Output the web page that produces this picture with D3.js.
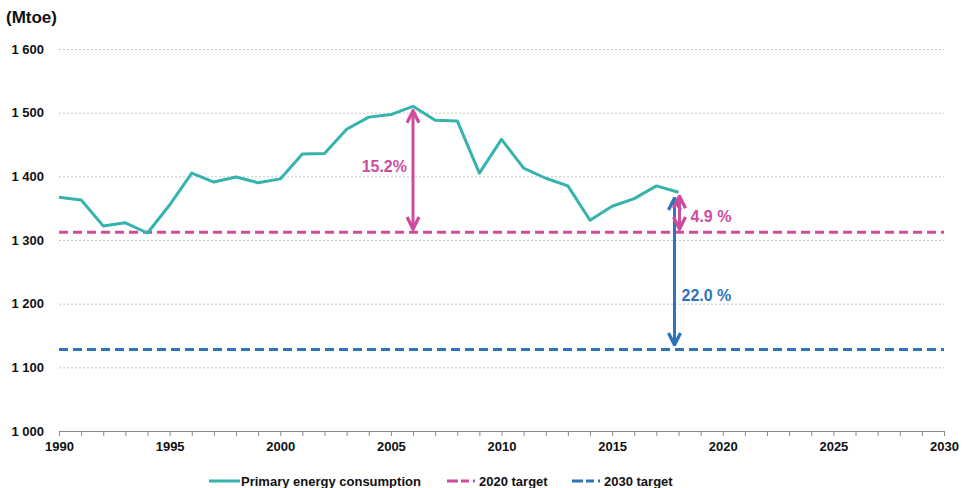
<!DOCTYPE html>
<html>
<head>
<meta charset="utf-8">
<script src="https://cdn.jsdelivr.net/npm/d3@7"></script>
<style>
  body { margin: 0; background: #fff; }
  svg text { font-family: "Liberation Sans", Arial, sans-serif; font-weight: bold; }
</style>
</head>
<body>
<div id="chart"></div>
<script>
// data
var years = [1990, 1991, 1992, 1993, 1994, 1995, 1996, 1997, 1998, 1999,
             2000, 2001, 2002, 2003, 2004, 2005, 2006, 2007, 2008, 2009,
             2010, 2011, 2012, 2013, 2014, 2015, 2016, 2017, 2018];
var consumption = [1367, 1363, 1322, 1327, 1311, 1355, 1405, 1391, 1399, 1390,
                   1396, 1435, 1436, 1474, 1493, 1497, 1510, 1488, 1487, 1405,
                   1458, 1413, 1397, 1385, 1331, 1353, 1365, 1385, 1375];
var target2020 = 1312;
var target2030 = 1128;
var yTicks = [1000, 1100, 1200, 1300, 1400, 1500, 1600];
var xTicks = [1990, 1995, 2000, 2005, 2010, 2015, 2020, 2025, 2030];

// gap arrows: year, from, to, label
var gapYears = [2006, 2018, 2018];
var gapFrom = [1506, 1372, 1369];
var gapTo = [1314, 1314, 1132];
var gapLabels = ["15.2%", "4.9 %", "22.0 %"];

var teal = "#35b3ad", magenta = "#cf4c9d", blue = "#2e74b8";

var margin = {top: 49, right: 19, bottom: 57, left: 59},
    width = 963 - margin.left - margin.right,
    height = 488 - margin.top - margin.bottom;

var svg = d3.select("#chart")
  .append("svg")
    .attr("width", 963)
    .attr("height", 488);

var g = svg.append("g")
    .attr("transform", "translate(" + margin.left + "," + margin.top + ")");

var x = d3.scaleLinear().domain([1990, 2030]).range([0, width]);
var y = d3.scaleLinear().domain([1000, 1600]).range([height, 0]);

var fmt = d3.formatLocale({decimal: ".", thousands: " ", grouping: [3], currency: ["", ""]}).format(",d");

// grid lines
g.append("g")
    .call(d3.axisLeft(y).tickValues(yTicks.slice(1)).tickSize(-width).tickFormat(""))
    .call(a => a.select(".domain").remove())
    .selectAll("line")
      .attr("stroke", "#c6c6c6")
      .attr("stroke-dasharray", "2,2");

// y axis labels
g.append("g")
    .attr("transform", "translate(-12,0)")
    .call(d3.axisLeft(y).tickValues(yTicks).tickSize(0).tickFormat(fmt))
    .call(a => a.select(".domain").remove())
    .selectAll("text")
      .attr("font-size", 13)
      .attr("fill", "#111");

// x axis
var xAxis = g.append("g")
    .attr("transform", "translate(0," + height + ")")
    .call(d3.axisBottom(x).ticks(40).tickSize(5).tickFormat(d => xTicks.indexOf(d) >= 0 ? d : "").tickSizeOuter(0));
xAxis.select(".domain").attr("stroke", "#888").attr("stroke-width", 1);
xAxis.selectAll("line").attr("stroke", "#888");
xAxis.selectAll("text")
    .attr("font-size", 13)
    .attr("fill", "#111")
    .attr("dy", "0.95em");

// unit
svg.append("text")
    .attr("x", 6)
    .attr("y", 23)
    .attr("font-size", 17)
    .attr("fill", "#111")
    .text("(Mtoe)");

// target lines
g.append("line")
    .attr("x1", x(1990)).attr("x2", x(2030))
    .attr("y1", y(target2020)).attr("y2", y(target2020))
    .attr("stroke", magenta).attr("stroke-width", 3).attr("stroke-dasharray", "9,5");
g.append("line")
    .attr("x1", x(1990)).attr("x2", x(2030))
    .attr("y1", y(target2030)).attr("y2", y(target2030))
    .attr("stroke", blue).attr("stroke-width", 3).attr("stroke-dasharray", "9,5");

// consumption line
g.append("path")
    .datum(years)
    .attr("fill", "none")
    .attr("stroke", teal)
    .attr("stroke-width", 3)
    .attr("stroke-linejoin", "round")
    .attr("d", d3.line()
        .x(function(d) { return x(d); })
        .y(function(d, i) { return y(consumption[i]); })
    );

// arrow heads
var defs = svg.append("defs");
[["magenta", magenta], ["blue", blue]].forEach(function(c) {
  defs.append("marker")
      .attr("id", "head-" + c[0])
      .attr("viewBox", "0 0 10 10")
      .attr("refX", 9).attr("refY", 5)
      .attr("markerWidth", 5).attr("markerHeight", 5)
      .attr("markerUnits", "strokeWidth")
      .attr("orient", "auto-start-reverse")
    .append("path")
      .attr("d", "M1,1 L9,5 L1,9")
      .attr("fill", "none")
      .attr("stroke", c[1])
      .attr("stroke-width", 2.2);
});

var gapColors = [magenta, magenta, blue];
var gapMarkers = ["magenta", "magenta", "blue"];
var gapShift = [0, 1, -4];

// blue first so magenta sits on top
[2, 0, 1].forEach(function(i) {
  var ax = x(gapYears[i]) + gapShift[i];
  g.append("line")
      .attr("x1", ax).attr("x2", ax)
      .attr("y1", y(gapFrom[i]) + 2).attr("y2", y(gapTo[i]) - 2)
      .attr("stroke", gapColors[i])
      .attr("stroke-width", 3)
      .attr("marker-start", "url(#head-" + gapMarkers[i] + ")")
      .attr("marker-end", "url(#head-" + gapMarkers[i] + ")");
});

// gap labels
g.append("text")
    .attr("x", x(gapYears[0]) - 6)
    .attr("y", y((gapFrom[0] + gapTo[0]) / 2) + 2)
    .attr("text-anchor", "end")
    .attr("font-size", 16)
    .attr("fill", magenta)
    .text(gapLabels[0]);
g.append("text")
    .attr("x", x(gapYears[1]) + 12)
    .attr("y", y((gapFrom[1] + gapTo[1]) / 2) + 9)
    .attr("font-size", 16)
    .attr("fill", magenta)
    .text(gapLabels[1]);
g.append("text")
    .attr("x", x(gapYears[2]) + 3)
    .attr("y", y((gapFrom[2] + gapTo[2]) / 2) + 29)
    .attr("font-size", 16)
    .attr("fill", blue)
    .text(gapLabels[2]);

// legend
var legendItems = [
  {label: "Primary energy consumption", color: teal, dash: null, x: 209},
  {label: "2020 target", color: magenta, dash: "11,3,8,4,2,5", x: 447},
  {label: "2030 target", color: blue, dash: "11,3,8,4,2,5", x: 572}
];
var legend = svg.append("g").attr("transform", "translate(0,481)");
legendItems.forEach(function(d) {
  legend.append("line")
      .attr("x1", d.x).attr("x2", d.x + 31)
      .attr("y1", 0).attr("y2", 0)
      .attr("stroke", d.color)
      .attr("stroke-width", 3)
      .attr("stroke-dasharray", d.dash);
  legend.append("text")
      .attr("x", d.x + 32)
      .attr("y", 4.5)
      .attr("font-size", 13)
      .attr("fill", "#111")
      .text(d.label);
});
</script>
</body>
</html>
